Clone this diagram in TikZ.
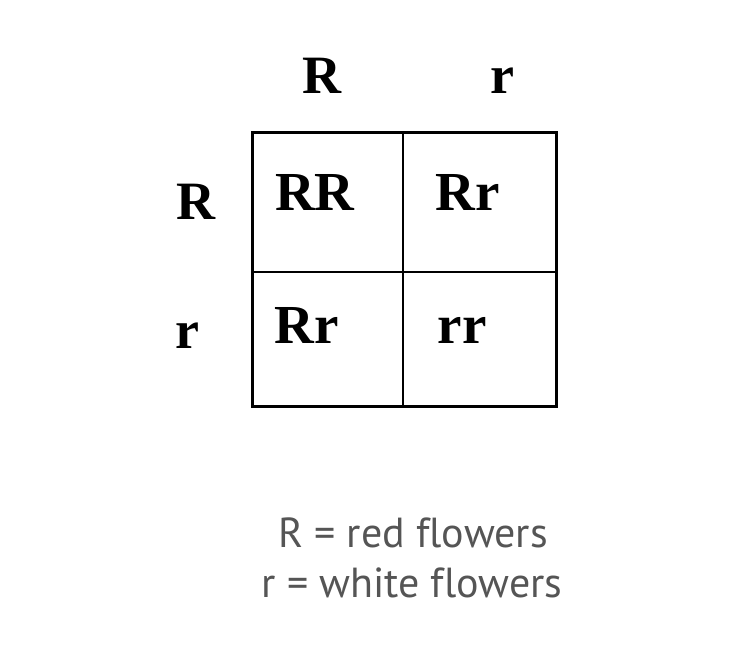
\documentclass[tikz,border=0pt]{standalone}
\usepackage{fontspec}
\setmainfont{Liberation Serif}
\newfontfamily\keyfont[Ligatures=NoCommon]{PT Sans}
\usetikzlibrary{positioning}

\definecolor{keygray}{HTML}{555555}

\tikzset{
  allele/.style={font=\fontsize{54}{54}\selectfont\bfseries, inner sep=0pt, anchor=base},
  geno/.style={font=\fontsize{55}{55}\selectfont\bfseries, inner sep=0pt, anchor=base},
  keytext/.style={font=\keyfont\fontsize{42}{42}\selectfont, text=keygray, inner sep=0pt, anchor=base},
  outerbox/.style={draw, line width=3pt},
  divider/.style={draw, line width=1.8pt}
}

\begin{document}
\begin{tikzpicture}[x=1pt,y=-1pt]
  \useasboundingbox (0,0) rectangle (750,649);

  % grid corners
  \coordinate (nw) at (252,132);
  \coordinate (se) at (556,406);
  \coordinate (topmid) at (403,132);
  \coordinate (botmid) at (403,406);
  \coordinate (leftmid) at (252,272);
  \coordinate (rightmid) at (556,272);

  \draw[outerbox] (nw) rectangle (se);
  \draw[divider] (topmid) -- (botmid);
  \draw[divider] (leftmid) -- (rightmid);

  % parent alleles
  \node[allele] (topR) at (322,93) {R};
  \node[allele] (topr) at (502,93) {r};
  \node[allele] (leftR) at (196,219) {R};
  \node[allele] (leftr) at (187,348) {r};

  % offspring
  \node[geno] (RR) at (315,210) {RR};
  \node[geno] (Rr1) at (468,210) {Rr};
  \node[geno] (Rr2) at (307,343) {Rr};
  \node[geno] (rr) at (462,343) {rr};

  % key
  \node[keytext] (keyR) at (413,547) {R = red flowers};
  \node[keytext] (keyr) at (412,597) {r = white flowers};
\end{tikzpicture}
\end{document}
